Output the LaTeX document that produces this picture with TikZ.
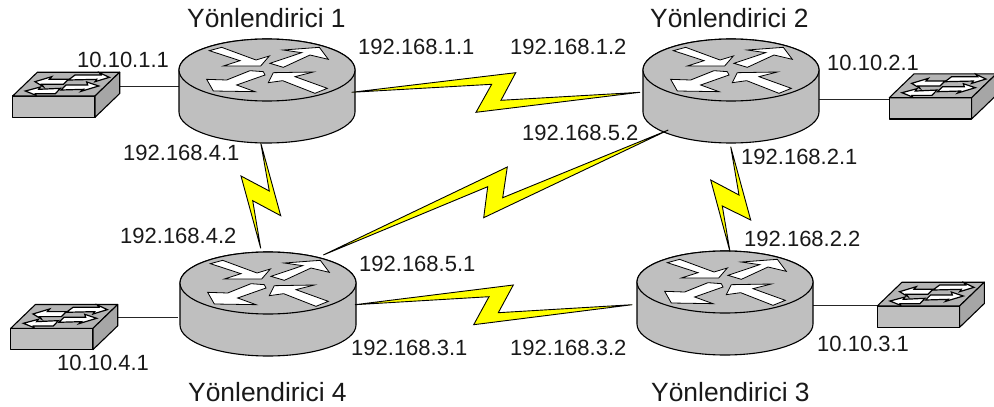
\documentclass[tikz,border=0pt]{standalone}
\usepackage{fontspec}
\setmainfont{Liberation Sans}
\definecolor{devgray}{HTML}{BFBFBF}
\definecolor{devdark}{HTML}{A6A6A6}
\definecolor{devtop}{HTML}{B4B4B4}
\definecolor{boltyellow}{HTML}{FFFF00}
\tikzset{
  devbody/.style={draw=black,line width=1.1pt,fill=devgray,line join=round},
  devarrow/.style={draw=black,line width=.8pt,fill=white,line join=miter},
  swarrow/.style={draw=black,line width=1.2pt,fill=white,line join=miter},
  link/.style={draw=black!85,line width=.9pt},
  bolt/.style={draw=black,line width=.9pt,fill=boltyellow,line join=miter},
  addr/.style={anchor=base west,inner sep=0pt,font=\fontsize{22}{24}\selectfont,text=black!90},
  title/.style={anchor=base west,inner sep=0pt,font=\fontsize{26.4}{28}\selectfont,text=black!90},
}
\newcommand{\routerdev}[3]{%
  \begin{scope}[shift={(#1,-#2)}]
    \coordinate (#3) at (0,0);
    \path[devbody] (-88,0) -- (-88,-42) arc[start angle=180,end angle=360,x radius=88,y radius=31] -- (88,0) arc[start angle=0,end angle=180,x radius=88,y radius=31] -- cycle;
    \path[devbody] (0,0) ellipse[x radius=88,y radius=31];
    \begin{scope}[x=0.3333pt,y=-0.3333pt]
      \path[devarrow] (-173,-58)--(-136,-68)--(-33,-30)--(7,-42)--(-19,-12)--(-131,-12)--(-81,-28)--cycle;
      \path[devarrow] (9,-20)--(104,-52)--(49,-60)--(157,-68)--(184,-32)--(129,-45)--(49,-8)--cycle;
      \path[devarrow] (-11,5)--(-51,2)--(-121,30)--(-181,28)--(-161,63)--(-36,65)--(-91,45)--(-6,15)--cycle;
      \path[devarrow] (4,38)--(19,8)--(139,6)--(84,20)--(181,55)--(144,70)--(47,32)--cycle;
    \end{scope}
  \end{scope}}
\newcommand{\switchdev}[3]{%
  \begin{scope}[shift={(#1,-#2)}]
    \coordinate (#3) at (0,0);
    \path[devbody,fill=devgray] (0,0) rectangle (82.3,-21.3);
    \path[devbody,fill=devtop] (0,0) -- (24.7,23.8) -- (107,23.8) -- (82.3,0) -- cycle;
    \path[devbody,fill=devdark] (82.3,0) -- (107,23.8) -- (107,2.5) -- (82.3,-21.3) -- cycle;
    \begin{scope}[x=0.3333pt,y=-0.3333pt]
      \path[swarrow] (167,-48)--(187,-63)--(265,-63)--(260,-70)--(290,-56)--(247,-43)--(252,-50)--cycle;
      \path[swarrow] (67,-43)--(117,-58)--(110,-50)--(167,-50)--(152,-35)--(87,-35)--(92,-28)--cycle;
      \path[swarrow] (160,-33)--(225,-33)--(222,-42)--(258,-30)--(205,-14)--(212,-20)--(145,-18)--cycle;
      \path[swarrow] (38,-15)--(83,-27)--(78,-20)--(143,-23)--(128,-7)--(68,-7)--(70,-2)--cycle;
    \end{scope}
  \end{scope}}
\begin{document}
\begin{tikzpicture}[x=1pt,y=1pt]
\useasboundingbox (0,0) rectangle (994,-407);
\fill[white] (0,0) rectangle (994,-407);
% connector end points
\coordinate (s1port) at (117,-86);
\coordinate (r1west) at (179,-86);
\coordinate (r2east) at (819,-99);
\coordinate (s2port) at (889,-99);
\coordinate (r3east) at (813,-305);
\coordinate (s3port) at (877,-305);
\coordinate (s4port) at (115,-317.3);
\coordinate (r4west) at (178,-317.3);
\coordinate (r1e) at (351.7,-92.3);
\coordinate (r2w) at (640,-92.3);
\coordinate (r2sw) at (668.3,-130);
\coordinate (r4ne) at (323.3,-255);
\coordinate (r1s) at (260.7,-142.7);
\coordinate (r4n) at (260.7,-248.3);
\coordinate (r2s) at (730.7,-146.7);
\coordinate (r3n) at (730,-251.7);
\coordinate (r4e) at (355,-304.7);
\coordinate (r3w) at (632.3,-304.7);
% access links
\draw[link] (s1port) -- (r1west);
\draw[link] (r2east) -- (s2port);
\draw[link] (r3east) -- (s3port);
\draw[link] (s4port) -- (r4west);
% devices
\routerdev{267}{70}{router1}
\routerdev{731}{70}{router2}
\routerdev{725}{282}{router3}
\routerdev{268}{283}{router4}
\switchdev{12.7}{96}{switch1}
\switchdev{889.3}{97.7}{switch2}
\switchdev{877.3}{306}{switch3}
\switchdev{10.7}{328.3}{switch4}
% serial links
\path[bolt] (r1e) -- (515.7,-72.7) -- (501,-100.3) -- (r2w) -- (476,-112.3) -- (491.7,-84.3) -- cycle;
\path[bolt] (r4ne) -- (507.3,-167) -- (502.7,-197.7) -- (r2sw) -- (483.7,-217.7) -- (487.7,-186.7) -- cycle;
\path[bolt] (r1s) -- (280.7,-215.7) -- (252.7,-200.7) -- (r4n) -- (241,-176) -- (269.3,-191) -- cycle;
\path[bolt] (r2s) -- (750.7,-220) -- (722.3,-206) -- (r3n) -- (710.7,-180) -- (739,-195) -- cycle;
\path[bolt] (r4e) -- (513.3,-285) -- (498.3,-312.7) -- (r3w) -- (473.7,-324.7) -- (489,-296.7) -- cycle;
% titles
\node[title] (t1) at (187,-27) {Yönlendirici 1};
\node[title] (t2) at (650,-27) {Yönlendirici 2};
\node[title] (t3) at (651,-401) {Yönlendirici 3};
\node[title] (t4) at (188,-401) {Yönlendirici 4};
% addresses
\node[addr] (a1) at (77,-67.7) {10.10.1.1};
\node[addr] (a2) at (827,-70.7) {10.10.2.1};
\node[addr] (a3) at (817,-351.7) {10.10.3.1};
\node[addr] (a4) at (57,-370.7) {10.10.4.1};
\node[addr] (b11) at (358,-54.3) {192.168.1.1};
\node[addr] (b12) at (510,-54.3) {192.168.1.2};
\node[addr] (b21) at (741,-164.3) {192.168.2.1};
\node[addr] (b22) at (744,-246.7) {192.168.2.2};
\node[addr] (b31) at (351,-355) {192.168.3.1};
\node[addr] (b32) at (510,-355) {192.168.3.2};
\node[addr] (b41) at (123,-160.7) {192.168.4.1};
\node[addr] (b42) at (120,-243.3) {192.168.4.2};
\node[addr] (b51) at (359,-271) {192.168.5.1};
\node[addr] (b52) at (522,-140) {192.168.5.2};
\end{tikzpicture}
\end{document}
